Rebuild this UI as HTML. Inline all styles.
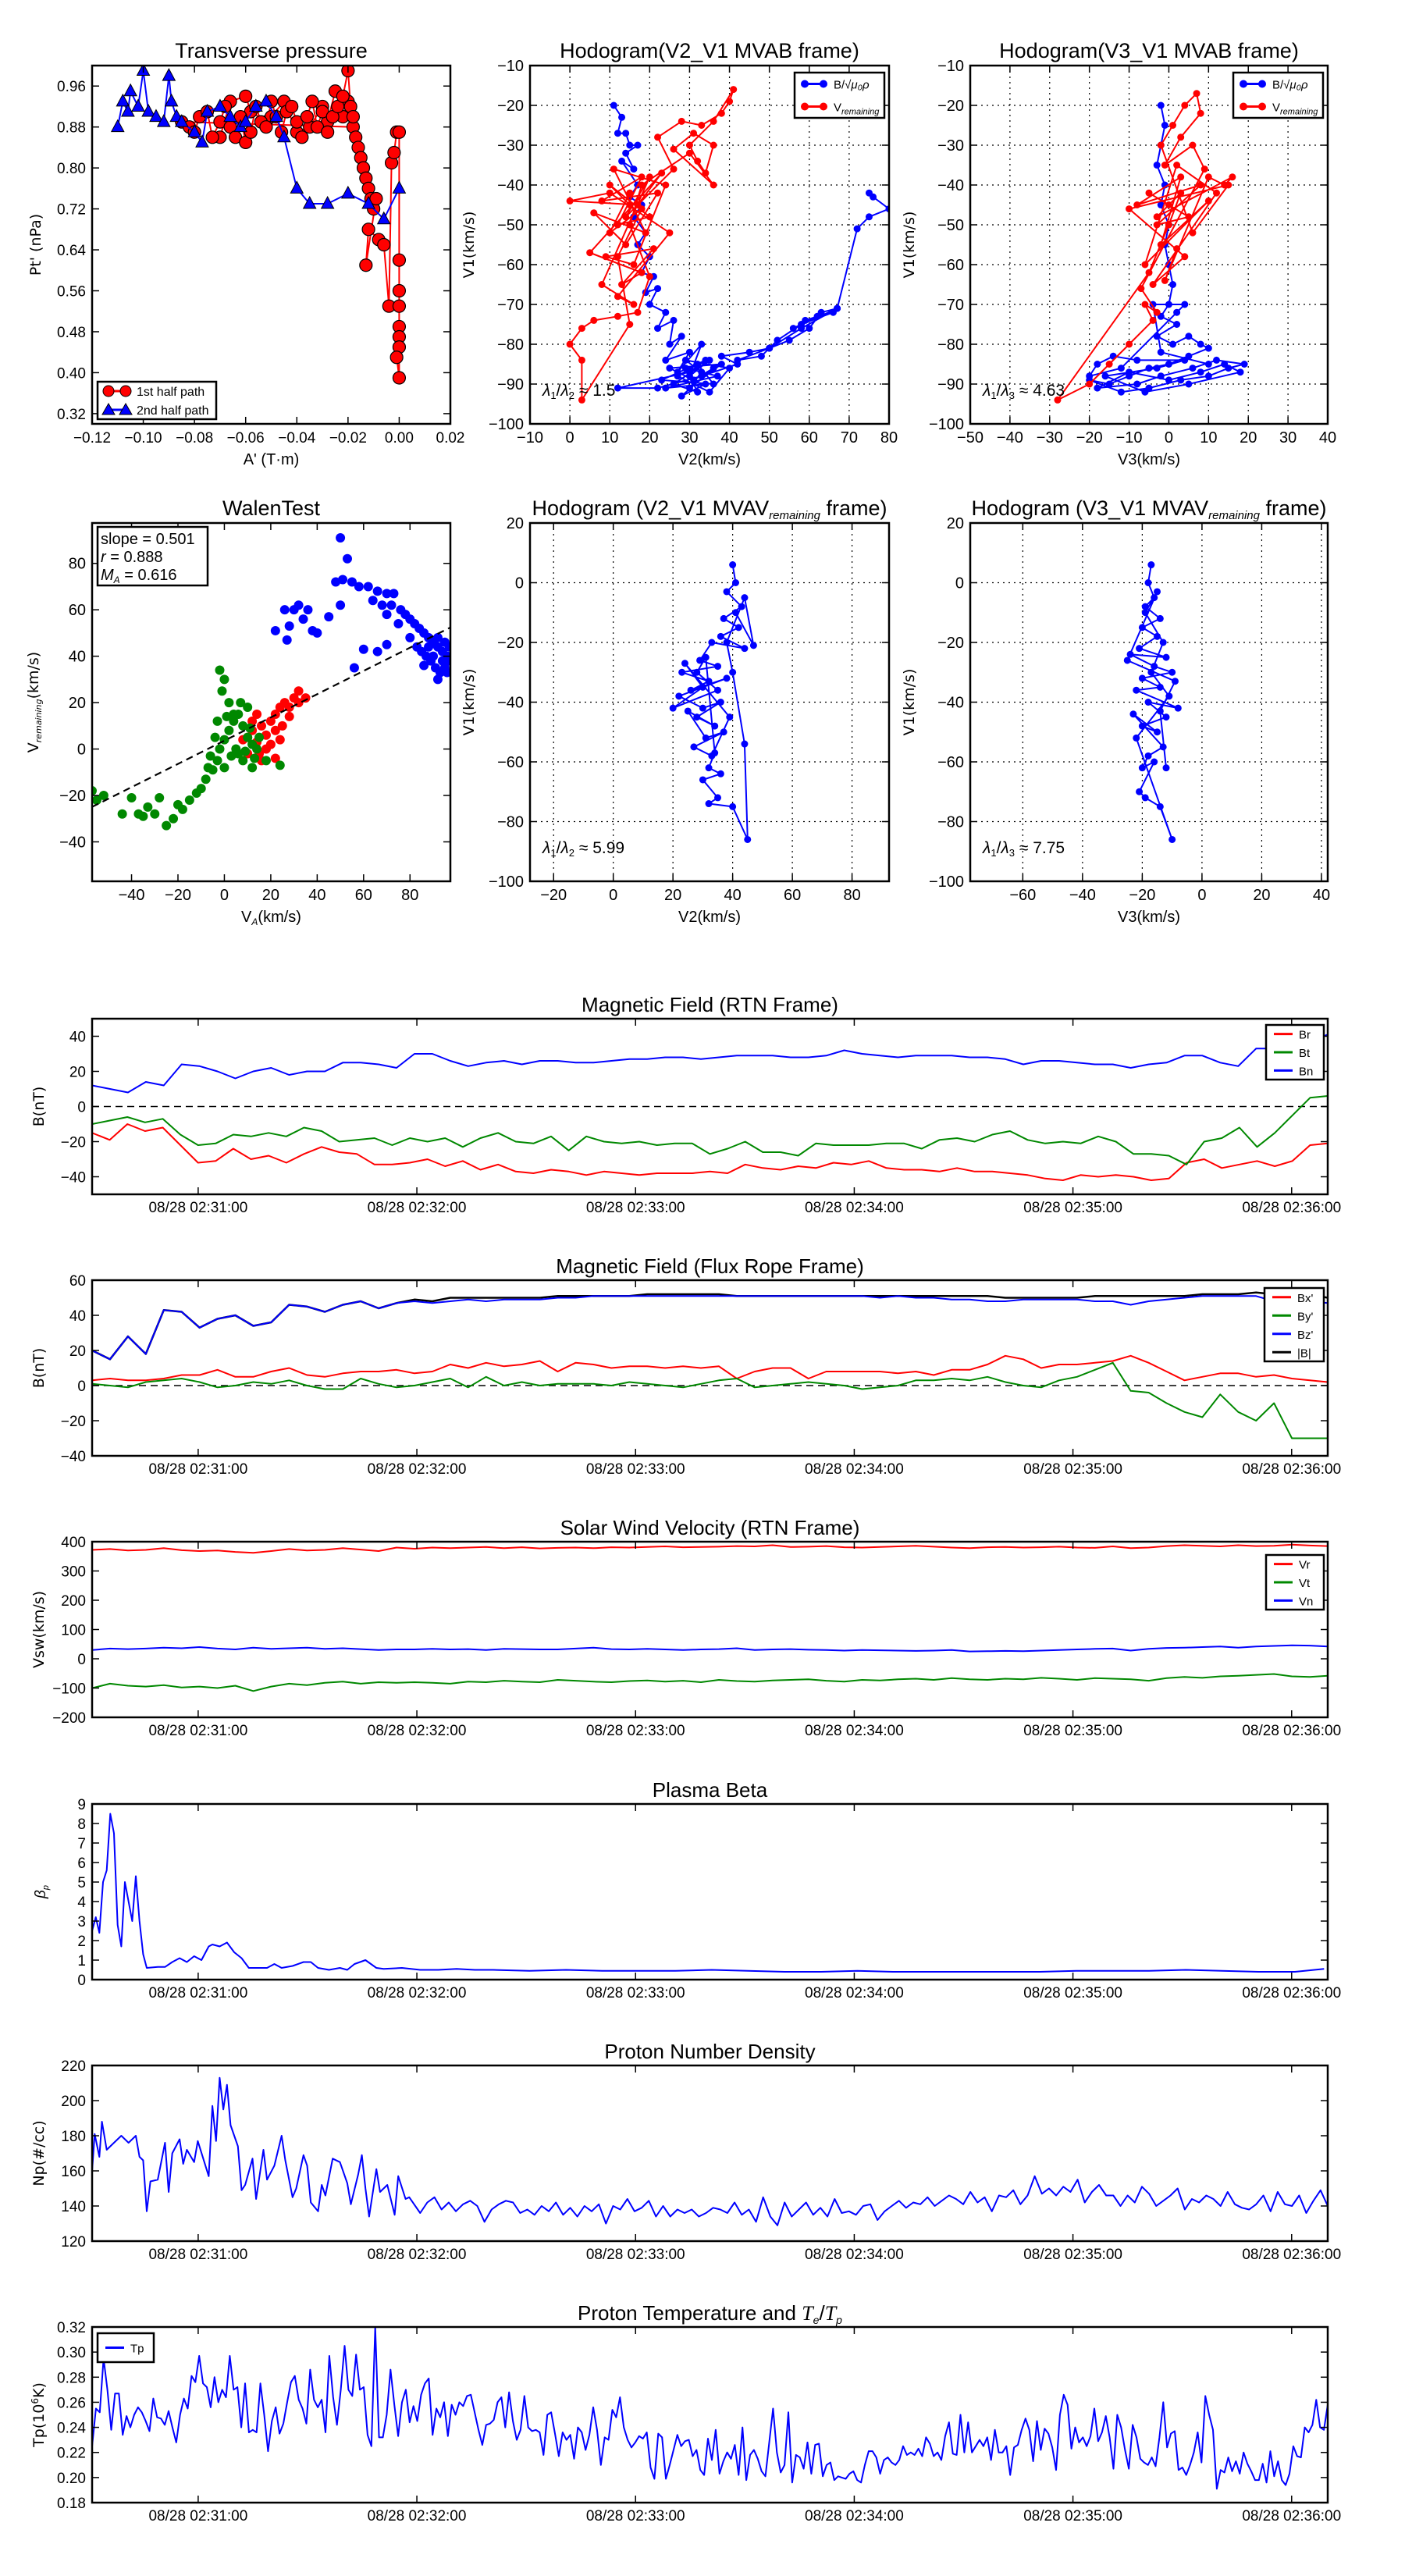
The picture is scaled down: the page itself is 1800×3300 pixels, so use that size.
<!DOCTYPE html>
<html><head><meta charset="utf-8"><title>Flux rope analysis</title>
<style>
html,body{margin:0;padding:0;background:#fff;}
svg{display:block;}
text{font-family:"Liberation Sans Narrow","Liberation Sans",sans-serif;fill:#000;}
.yl{font-family:"DejaVu Sans","Liberation Sans",sans-serif;}
</style></head>
<body>
<svg id="fig" xmlns="http://www.w3.org/2000/svg" width="1800" height="3300" viewBox="0 0 1800 3300"></svg>
<script>
// ---------- data ----------
const tpRedA=[-0.07,-0.066,-0.06,-0.058,-0.052,-0.05,-0.045,-0.04,-0.035,-0.03,-0.028,-0.025,-0.022,-0.02,-0.018,-0.085,-0.082,-0.08,-0.078,-0.075,-0.073,-0.07,-0.068,-0.066,-0.064,-0.062,-0.06,-0.058,-0.056,-0.054,-0.052,-0.05,-0.048,-0.046,-0.044,-0.042,-0.04,-0.038,-0.036,-0.034,-0.032,-0.03,-0.028,-0.026,-0.024,-0.022,-0.02,-0.019,-0.018,-0.017,-0.016,-0.015,-0.014,-0.013,-0.012,-0.011,-0.01,-0.009,-0.013,-0.012,-0.008,-0.006,-0.004,-0.003,-0.002,-0.001,0,0,0,0,0,0,0,0,-0.001];
const tpRedP=[0.86,0.93,0.94,0.91,0.89,0.9,0.93,0.87,0.88,0.92,0.89,0.95,0.9,0.93,0.88,0.89,0.88,0.87,0.9,0.91,0.86,0.89,0.92,0.88,0.86,0.9,0.85,0.87,0.92,0.89,0.88,0.93,0.9,0.87,0.91,0.92,0.89,0.86,0.9,0.93,0.88,0.91,0.87,0.9,0.92,0.94,0.99,0.92,0.9,0.86,0.84,0.82,0.8,0.78,0.76,0.74,0.72,0.74,0.61,0.68,0.66,0.65,0.53,0.81,0.83,0.87,0.87,0.62,0.56,0.53,0.49,0.47,0.45,0.39,0.43];
const tpBlueA=[-0.11,-0.108,-0.106,-0.105,-0.102,-0.1,-0.098,-0.095,-0.092,-0.09,-0.089,-0.087,-0.085,-0.08,-0.077,-0.075,-0.07,-0.066,-0.062,-0.06,-0.056,-0.052,-0.048,-0.045,-0.04,-0.035,-0.028,-0.02,-0.012,-0.006,0];
const tpBlueP=[0.88,0.93,0.91,0.95,0.92,0.99,0.91,0.9,0.89,0.98,0.93,0.9,0.89,0.87,0.85,0.91,0.92,0.9,0.88,0.89,0.92,0.93,0.9,0.86,0.76,0.73,0.73,0.75,0.73,0.7,0.76];

const h1Blue=[[11,-20],[13,-23],[12,-27],[14,-27],[15,-30],[17,-30],[14,-32],[16,-36],[13,-34],[17,-40],[15,-43],[18,-45],[16,-48],[19,-52],[17,-55],[20,-58],[18,-62],[21,-63],[19,-67],[22,-66],[20,-70],[24,-72],[22,-76],[26,-74],[25,-80],[28,-78],[24,-84],[30,-82],[27,-87],[33,-80],[30,-88],[35,-84],[26,-90],[32,-92],[29,-86],[37,-88],[24,-91],[34,-90],[28,-93],[36,-86],[31,-89],[25,-86],[38,-85],[30,-91],[33,-87],[29,-84],[40,-86],[35,-92],[27,-88],[32,-85],[36,-90],[23,-89],[34,-84],[30,-87],[12,-91],[22,-91],[33,-88],[42,-85],[38,-83],[45,-82],[50,-81],[55,-79],[60,-76],[63,-72],[67,-71],[56,-76],[62,-73],[59,-74],[66,-72],[58,-75],[52,-79],[48,-83],[42,-84],[50,-81],[58,-76],[67,-71],[72,-51],[75,-48],[80,-46],[76,-43],[75,-42]];
const h1Red=[[15,-45],[10,-40],[20,-48],[12,-50],[18,-38],[8,-44],[22,-42],[14,-55],[6,-47],[19,-52],[11,-36],[24,-40],[16,-60],[9,-58],[21,-56],[13,-65],[18,-62],[5,-57],[23,-37],[17,-45],[0,-44],[10,-42],[25,-52],[12,-68],[16,-70],[8,-65],[20,-38],[14,-48],[26,-36],[22,-28],[28,-24],[33,-25],[38,-22],[40,-19],[41,-16],[36,-24],[30,-30],[32,-34],[34,-37],[36,-30],[31,-27],[26,-31],[36,-40],[30,-32],[18,-40],[15,-50],[20,-63],[17,-72],[12,-73],[6,-74],[3,-76],[0,-80],[3,-84],[3,-94],[15,-75],[12,-58],[18,-46],[10,-52],[15,-42]];
const h2Blue=[[-2,-20],[-1,-25],[-2,-30],[-3,-35],[-1,-40],[-2,-45],[0,-50],[-1,-55],[0,-60],[1,-65],[0,-70],[-2,-73],[2,-75],[-3,-78],[1,-80],[5,-78],[8,-80],[10,-81],[5,-83],[0,-85],[-5,-86],[-10,-88],[-15,-90],[-20,-89],[-12,-92],[-5,-91],[3,-89],[10,-88],[15,-86],[19,-85],[12,-84],[6,-86],[-2,-88],[-8,-90],[-18,-91],[-10,-87],[0,-89],[8,-87],[14,-85],[18,-87],[5,-90],[-6,-92],[-16,-88],[-3,-86],[4,-84],[-8,-84],[-14,-83],[-18,-85],[-20,-88],[-12,-86],[2,-72],[4,-70],[-4,-70],[-2,-82],[10,-85]];
const h2Red=[[0,-45],[-5,-42],[5,-48],[-3,-50],[8,-40],[-8,-45],[3,-38],[-2,-55],[10,-44],[-6,-60],[2,-35],[12,-42],[-4,-65],[4,-58],[-10,-46],[15,-40],[6,-52],[-2,-30],[1,-25],[4,-20],[7,-17],[8,-22],[3,-28],[-1,-35],[6,-30],[9,-36],[-7,-66],[-3,-72],[-6,-70],[-4,-74],[-10,-80],[-15,-85],[-20,-90],[-28,-94],[-5,-62],[0,-50],[3,-42],[-3,-48],[16,-38],[14,-40],[10,-38],[-1,-64],[2,-56]];
const walenBlue=[[50,91],[53,82],[51,73],[48,72],[55,72],[58,70],[62,70],[66,68],[70,67],[73,67],[64,64],[68,62],[72,62],[76,60],[78,58],[80,56],[82,54],[84,52],[86,50],[88,48],[90,46],[92,44],[94,42],[96,40],[97,38],[95,35],[93,33],[91,35],[89,38],[87,40],[85,42],[92,48],[95,46],[97,44],[88,44],[90,40],[94,38],[96,33],[92,30],[86,36],[83,44],[80,48],[75,54],[70,58],[28,53],[30,60],[32,62],[34,56],[36,60],[38,51],[40,50],[26,60],[22,51],[45,57],[27,47],[66,42],[60,43],[56,35],[70,45],[50,62]];
const walenRed=[[10,5],[12,8],[14,3],[16,10],[18,6],[20,12],[22,15],[24,18],[26,20],[28,14],[30,22],[32,20],[35,22],[15,-2],[18,0],[22,8],[25,10],[12,12],[8,4],[20,2],[28,18],[32,25],[10,-2],[14,15],[24,4],[16,-5],[22,-4]];
const walenGreen=[[-57,-18],[-55,-22],[-52,-20],[-40,-21],[-37,-28],[-33,-25],[-30,-28],[-28,-21],[-25,-33],[-22,-30],[-20,-24],[-18,-26],[-15,-22],[-12,-19],[-10,-17],[-8,-13],[-5,-9],[-3,-5],[-2,0],[0,4],[2,8],[4,12],[6,15],[8,10],[10,5],[-2,34],[0,30],[-1,25],[2,20],[4,15],[6,-2],[8,-5],[12,-8],[14,0],[-4,5],[5,0],[0,-8],[3,-3],[7,20],[10,18],[12,2],[15,5],[18,-5],[24,-7],[-3,12],[-6,-3],[-7,-8],[1,14],[9,-1],[11,9],[13,-4],[-35,-29],[-44,-28]];
const walenSlope=0.501, walenIntercept=3.6;
const h3Blue=[[40,6],[41,0],[38,-3],[43,-8],[37,-12],[42,-15],[36,-18],[44,-22],[33,-20],[29,-26],[35,-28],[23,-30],[32,-33],[26,-36],[38,-32],[22,-38],[30,-42],[36,-40],[28,-45],[34,-48],[25,-43],[31,-52],[37,-50],[27,-55],[33,-58],[39,-45],[24,-27],[30,-35],[20,-42],[35,-36],[28,-30],[31,-25],[34,-57],[32,-62],[36,-64],[30,-66],[35,-72],[32,-74],[40,-75],[45,-86],[44,-54],[40,-30],[38,-20],[44,-5],[47,-21],[41,-10]];
const h4Blue=[[-17,6],[-18,0],[-16,-5],[-19,-8],[-14,-12],[-20,-15],[-15,-18],[-21,-22],[-12,-25],[-24,-24],[-16,-28],[-10,-30],[-20,-32],[-14,-35],[-22,-36],[-8,-42],[-18,-40],[-12,-45],[-20,-48],[-15,-50],[-23,-44],[-13,-55],[-18,-58],[-20,-62],[-16,-60],[-21,-70],[-19,-72],[-14,-75],[-10,-86],[-22,-52],[-11,-38],[-17,-30],[-13,-20],[-19,-10],[-15,-3],[-25,-26],[-9,-33],[-14,-43],[-12,-62]];

const timeTicks=[29.1,89.1,149.1,209.1,269.1,329.1];
const timeLabels=["08/28 02:31:00","08/28 02:32:00","08/28 02:33:00","08/28 02:34:00","08/28 02:35:00","08/28 02:36:00"];
const Br=[-15,-19,-10,-14,-12,-22,-32,-31,-24,-30,-28,-32,-27,-23,-26,-27,-33,-33,-32,-30,-34,-31,-36,-33,-37,-38,-36,-37,-39,-37,-38,-39,-38,-38,-38,-37,-38,-33,-35,-36,-34,-35,-32,-33,-31,-35,-36,-36,-37,-35,-37,-37,-38,-39,-41,-42,-39,-40,-39,-40,-42,-41,-32,-30,-35,-33,-31,-34,-31,-22,-21];
const Bt=[-10,-8,-6,-9,-7,-16,-22,-21,-16,-17,-15,-17,-12,-14,-20,-19,-18,-22,-18,-20,-18,-23,-18,-15,-20,-21,-17,-25,-17,-20,-21,-20,-22,-21,-21,-27,-24,-20,-26,-26,-28,-21,-22,-22,-22,-21,-21,-24,-19,-18,-20,-16,-14,-19,-21,-20,-21,-17,-20,-27,-27,-28,-33,-20,-18,-12,-23,-15,-5,5,6];
const Bn=[12,10,8,14,12,24,23,20,16,20,22,18,20,20,25,25,24,22,30,30,26,23,25,26,24,26,26,25,25,26,27,27,28,28,27,28,29,29,29,28,28,29,32,30,29,28,29,29,29,28,28,27,24,26,26,25,24,24,22,24,25,29,29,25,23,33,33,40,37,41];
const Bx=[3,4,3,3,4,6,6,9,5,5,8,10,6,5,7,8,8,9,7,8,12,10,13,11,12,14,8,13,12,10,11,11,10,11,10,11,4,8,10,10,4,8,8,8,8,7,8,6,9,9,12,17,15,10,12,12,13,14,17,13,8,3,5,7,7,5,6,4,3,2];
const By=[1,0,-1,2,3,4,2,-1,0,2,1,3,0,-2,-2,4,1,-1,0,2,4,-1,5,0,2,0,1,1,1,0,2,1,0,-1,1,3,4,-1,0,1,2,1,0,-2,-1,0,3,3,4,3,5,2,0,-1,3,5,9,13,-3,-4,-10,-15,-18,-5,-15,-20,-10,-30,-30,-30];
const Bz=[20,15,28,18,43,42,33,38,40,34,36,46,45,42,46,48,44,47,48,47,48,49,48,49,49,49,50,50,51,51,51,51,51,51,51,51,51,51,51,51,51,51,51,51,50,51,50,50,49,49,48,48,49,49,49,49,48,48,46,48,49,50,51,51,51,51,48,52,48,47];
const Bmag=[20,15,28,18,43,42,33,38,40,34,36,46,45,42,46,48,44,47,49,48,50,50,50,50,50,50,51,51,51,51,51,52,52,52,52,52,51,51,51,51,51,51,51,51,51,51,51,51,51,51,51,50,50,50,50,50,51,51,51,51,51,51,52,52,52,53,52,53,52,50];
const Vr=[372,375,370,372,378,371,368,370,365,362,368,375,370,372,378,373,368,380,376,380,378,380,382,378,381,377,379,380,378,381,380,382,384,381,382,383,385,384,388,382,383,385,381,380,382,384,386,383,380,378,381,382,380,381,383,380,379,384,378,380,385,388,386,384,388,385,386,390,387,385];
const Vt=[-100,-85,-92,-95,-90,-98,-95,-100,-92,-110,-95,-85,-90,-82,-78,-85,-80,-82,-80,-82,-85,-78,-80,-75,-78,-80,-72,-75,-78,-80,-76,-74,-78,-75,-80,-72,-76,-78,-74,-72,-70,-75,-78,-72,-74,-70,-68,-72,-66,-70,-72,-68,-70,-65,-68,-72,-66,-68,-70,-75,-66,-62,-65,-60,-58,-55,-52,-60,-62,-58];
const Vn=[30,35,33,35,38,36,40,35,32,38,34,36,38,34,36,33,30,32,32,34,32,33,30,34,33,32,32,35,38,33,32,34,32,30,32,33,36,30,32,33,31,30,28,30,29,28,27,28,30,25,26,27,26,28,30,32,34,35,28,34,37,38,40,42,38,42,44,46,45,42];
const betaT=[0,1,2,3,4,5,6,7,8,9,10,11,12,13,14,15,18,20,22,24,26,28,30,32,33,35,37,39,41,43,45,48,50,52,55,58,60,62,65,68,70,72,75,78,80,85,90,95,100,105,110,120,130,140,150,160,170,180,190,200,210,220,230,240,250,260,270,280,290,300,310,320,330,338];
const betaV=[2.5,3.2,2.4,5,5.6,8.5,7.5,2.8,1.7,5,4,3,5.3,3,1.3,0.6,0.65,0.65,0.9,1.1,0.9,1.2,1.0,1.7,1.8,1.7,1.9,1.4,1.1,0.6,0.6,0.6,0.8,0.6,0.7,0.9,0.9,0.6,0.5,0.6,0.5,0.8,1.0,0.6,0.55,0.6,0.5,0.5,0.55,0.5,0.5,0.45,0.5,0.45,0.45,0.45,0.5,0.45,0.4,0.4,0.45,0.4,0.4,0.4,0.4,0.4,0.45,0.45,0.45,0.5,0.45,0.4,0.4,0.55];
const npHeadT=[0,0.7,2,2.7,4,6,8,10,12,13,14,15,16,18,20,21,22,24,25,26,28,29,32,33,34,35,36,37,38,40,41,42,44,45,47,48,50,52,53,55,56,58,59,60,62,63,64,66,68,70,71,73,74,75,76,78,79,81,83,84,86,87];
const npHeadV=[160,181,168,188,172,176,180,176,180,168,166,137,154,155,176,148,170,178,164,172,165,177,157,197,177,213,195,209,186,174,149,152,167,144,172,155,163,180,166,145,150,169,163,142,137,152,146,167,165,153,141,158,169,150,134,161,148,152,135,157,144,145];
const npTail=[136,142,145,138,142,137,141,143,140,131,138,141,143,142,136,138,135,140,137,142,135,139,134,140,137,141,130,140,138,144,137,139,143,134,140,134,138,136,138,134,136,139,138,136,142,135,138,131,145,134,129,142,134,138,142,135,139,134,144,136,137,135,140,141,132,137,140,143,139,142,141,145,140,143,146,144,141,148,142,145,137,146,145,149,141,146,157,147,150,146,151,148,155,142,148,152,146,146,140,146,142,151,147,140,143,146,150,138,144,142,146,144,140,148,141,139,138,141,146,137,148,141,140,146,136,143,149,140];
const Tp=[0.225,0.255,0.252,0.295,0.27,0.238,0.267,0.267,0.234,0.249,0.24,0.25,0.256,0.252,0.245,0.237,0.263,0.248,0.247,0.242,0.253,0.24,0.228,0.25,0.263,0.255,0.281,0.276,0.297,0.275,0.272,0.256,0.28,0.26,0.27,0.264,0.297,0.27,0.272,0.24,0.275,0.236,0.238,0.236,0.275,0.25,0.221,0.245,0.256,0.235,0.243,0.26,0.276,0.281,0.262,0.255,0.243,0.286,0.262,0.256,0.262,0.236,0.297,0.264,0.242,0.27,0.305,0.27,0.265,0.298,0.27,0.272,0.234,0.225,0.32,0.232,0.232,0.25,0.286,0.258,0.233,0.26,0.27,0.244,0.257,0.245,0.266,0.275,0.279,0.234,0.255,0.248,0.26,0.233,0.258,0.25,0.26,0.257,0.265,0.266,0.252,0.238,0.226,0.242,0.243,0.246,0.26,0.264,0.24,0.268,0.245,0.23,0.238,0.265,0.24,0.237,0.238,0.236,0.218,0.25,0.252,0.235,0.217,0.236,0.23,0.234,0.215,0.24,0.236,0.222,0.234,0.256,0.238,0.21,0.232,0.23,0.254,0.248,0.264,0.24,0.23,0.224,0.228,0.233,0.231,0.236,0.208,0.199,0.235,0.232,0.199,0.21,0.222,0.234,0.225,0.229,0.23,0.217,0.222,0.206,0.202,0.231,0.214,0.238,0.203,0.213,0.22,0.215,0.226,0.202,0.24,0.198,0.218,0.222,0.215,0.205,0.201,0.228,0.255,0.22,0.204,0.21,0.252,0.196,0.218,0.216,0.207,0.228,0.203,0.226,0.227,0.201,0.21,0.212,0.198,0.201,0.2,0.199,0.203,0.205,0.198,0.196,0.21,0.221,0.221,0.216,0.203,0.214,0.216,0.212,0.21,0.214,0.225,0.218,0.22,0.218,0.223,0.217,0.232,0.227,0.217,0.22,0.214,0.233,0.244,0.219,0.218,0.25,0.22,0.244,0.22,0.225,0.23,0.225,0.232,0.214,0.238,0.22,0.22,0.225,0.202,0.224,0.226,0.238,0.247,0.238,0.213,0.245,0.222,0.239,0.235,0.224,0.206,0.25,0.266,0.258,0.223,0.24,0.228,0.232,0.225,0.233,0.255,0.229,0.236,0.249,0.232,0.207,0.25,0.24,0.222,0.207,0.242,0.232,0.215,0.212,0.21,0.216,0.209,0.232,0.26,0.224,0.235,0.237,0.206,0.208,0.202,0.21,0.22,0.236,0.212,0.265,0.25,0.238,0.191,0.206,0.204,0.216,0.205,0.213,0.203,0.22,0.211,0.205,0.198,0.198,0.211,0.196,0.221,0.201,0.213,0.198,0.194,0.203,0.225,0.217,0.216,0.24,0.236,0.242,0.262,0.24,0.238,0.258];

// ---------- helpers ----------
const NS="http://www.w3.org/2000/svg";
const svg=document.getElementById('fig');
let clipId=0;
function mk(tag,attrs,parent){const e=document.createElementNS(NS,tag);for(const k in attrs)e.setAttribute(k,attrs[k]);(parent||svg).appendChild(e);return e;}
function fmtMinus(s){return String(s).replace('-','\u2212');}
function txt(x,y,s,size,anchor,parent,cls){const t=mk('text',{x:x,y:y,'font-size':size,'text-anchor':anchor||'middle'},parent);if(cls)t.setAttribute('class',cls);t.textContent=s;return t;}

function axes(o){
  const g=mk('g',{});
  
  
  const sx=v=>o.x+(v-o.xmin)/(o.xmax-o.xmin)*o.w;
  const sy=v=>o.y+o.h-(v-o.ymin)/(o.ymax-o.ymin)*o.h;
  const cid='c'+(clipId++);
  const cp=mk('clipPath',{id:cid},g);
  mk('rect',{x:o.x,y:o.y,width:o.w,height:o.h},cp);
  if(o.grid){
    o.xticks.forEach(v=>{const gl=mk('line',{x1:sx(v),x2:sx(v),y1:o.y,y2:o.y+o.h,stroke:'#000','stroke-width':1.2,'stroke-dasharray':'2,5'},g);});
    o.yticks.forEach(v=>{const gl=mk('line',{x1:o.x,x2:o.x+o.w,y1:sy(v),y2:sy(v),stroke:'#000','stroke-width':1.2,'stroke-dasharray':'2,5'},g);});
  }
  const plot=mk('g',{'clip-path':'url(#'+cid+')'},g);
  
  
  const fs=o.fs||20;
  o.xticks.forEach((v,i)=>{
    const X=sx(v);
    mk('line',{x1:X,x2:X,y1:o.y+o.h,y2:o.y+o.h-9,stroke:'#000','stroke-width':1.5},g);
    mk('line',{x1:X,x2:X,y1:o.y,y2:o.y+9,stroke:'#000','stroke-width':1.5},g);
    const lab=o.xlabels?o.xlabels[i]:fmtMinus(o.xfmt?o.xfmt(v):v);
    const t=txt(X,o.y+o.h+(o.xoff||24),lab,fs,'middle',g);
    
    
  });
  o.yticks.forEach(v=>{
    const Y=sy(v);
    mk('line',{x1:o.x,x2:o.x+9,y1:Y,y2:Y,stroke:'#000','stroke-width':1.5},g);
    mk('line',{x1:o.x+o.w,x2:o.x+o.w-9,y1:Y,y2:Y,stroke:'#000','stroke-width':1.5},g);
    const t=txt(o.x-8,Y+7,fmtMinus(o.yfmt?o.yfmt(v):v),fs,'end',g);
    
    
  });
  const fr=mk('rect',{x:o.x,y:o.y,width:o.w,height:o.h,fill:'none',stroke:'#000','stroke-width':2.5},g);
  
  
  if(o.title){const t=txt(o.x+o.w/2,o.y-(o.tOff||10),o.title,o.tfs||27,'middle',g);}
  if(o.xlabel){const t=txt(o.x+o.w/2,o.y+o.h+(o.xlOff||52),o.xlabel,20,'middle',g);}
  if(o.ylabel){const t=txt(0,0,o.ylabel,19,'middle',g,'yl');t.setAttribute('transform','translate('+o.ylx+','+(o.y+o.h/2)+') rotate(-90)');}
  return {sx,sy,plot,g};
}
function polyline(A,pts,color,w,name,dash){
  const d=pts.map((p,i)=>(i?'L':'M')+A.sx(p[0]).toFixed(1)+','+A.sy(p[1]).toFixed(1)).join('');
  const e=mk('path',{d:d,fill:'none',stroke:color,'stroke-width':w||2,'stroke-linejoin':'round'},A.plot);
  if(dash)e.setAttribute('stroke-dasharray',dash);
  
  
  return e;
}
function dots(A,pts,color,r,name,stroke){
  const g=mk('g',{},A.plot);
  
  
  pts.forEach(p=>{mk('circle',{cx:A.sx(p[0]),cy:A.sy(p[1]),r:r,fill:color,stroke:stroke||'none','stroke-width':1.2},g);});
}
function evenSeries(vals,t0,t1){const n=vals.length;return vals.map((v,i)=>[t0+(t1-t0)*i/(n-1),v]);}
function legendBox(x,y,w,h,entries,parent,name,fs,marker){
  const g=mk('g',{},parent);
  
  
  mk('rect',{x:x,y:y,width:w,height:h,fill:'#fff',stroke:'#000','stroke-width':2.5},g);
  const step=h/entries.length;
  entries.forEach((en,i)=>{
    const cy=y+step*(i+0.5);
    const lg=mk('g',{},g);
    
    
    mk('line',{x1:x+10,x2:x+(marker?40:34),y1:cy,y2:cy,stroke:en.c,'stroke-width':3},lg);
    if(marker==='o'){mk('circle',{cx:x+13,cy:cy,r:5,fill:en.c},lg);mk('circle',{cx:x+37,cy:cy,r:5,fill:en.c},lg);}
    if(en.m==='bigo'){mk('circle',{cx:x+14,cy:cy,r:7,fill:en.c,stroke:'#000','stroke-width':1},lg);mk('circle',{cx:x+36,cy:cy,r:7,fill:en.c,stroke:'#000','stroke-width':1},lg);}
    if(en.m==='tri'){[14,36].forEach(dx=>mk('path',{d:'M'+(x+dx)+','+(cy-8)+'L'+(x+dx+8)+','+(cy+6)+'L'+(x+dx-8)+','+(cy+6)+'Z',fill:en.c,stroke:'#000','stroke-width':1},lg));}
    const t=mk('text',{x:x+(marker?50:42),y:cy+6,'font-size':fs||17,'text-anchor':'start'},lg);
    t.innerHTML=en.html;
  });
  return g;
}

// ---------- top row ----------
const cols=[[118,459],[679,460],[1243,458]];
const row1=[84,459], row2=[670,459];

{
const A=axes({name:'transverse-pressure-chart',x:cols[0][0],y:row1[0],w:cols[0][1],h:row1[1],xmin:-0.12,xmax:0.02,ymin:0.30,ymax:1.0,
 xticks:[-0.12,-0.1,-0.08,-0.06,-0.04,-0.02,0,0.02],yticks:[0.32,0.40,0.48,0.56,0.64,0.72,0.80,0.88,0.96],
 xfmt:v=>v.toFixed(2),yfmt:v=>v.toFixed(2),title:'Transverse pressure',xlabel:"A' (T\u00b7m)",ylabel:"Pt' (nPa)",ylx:52,fs:19});
const red=tpRedA.map((a,i)=>[a,tpRedP[i]]);
const blue=tpBlueA.map((a,i)=>[a,tpBlueP[i]]);
polyline(A,red,'#f00',2,'first-half-line');
dots(A,red,'#f00',8,'first-half-markers','#000');
polyline(A,blue,'#00f',2,'second-half-line');
const tg=mk('g',{},A.plot);


blue.forEach(p=>{const X=A.sx(p[0]),Y=A.sy(p[1]);mk('path',{d:'M'+X+','+(Y-9)+'L'+(X+8)+','+(Y+6)+'L'+(X-8)+','+(Y+6)+'Z',fill:'#00f',stroke:'#000','stroke-width':1},tg);});
legendBox(125,489,152,48,[{c:'#f00',m:'bigo',html:'1st half path'},{c:'#00f',m:'tri',html:'2nd half path'}],A.g,'pressure-legend',16,'x');
}
function hodo(name,col,row,xr,yr,xt,yt,title,xl,series,lam,legend){
  const A=axes({name:name,x:col[0],y:row[0],w:col[1],h:row[1],xmin:xr[0],xmax:xr[1],ymin:yr[0],ymax:yr[1],xticks:xt,yticks:yt,grid:true,title:title,xlabel:xl,ylabel:'V1(km/s)',ylx:col[0]-72,fs:20});
  series.forEach(s=>{polyline(A,s.d,s.c,2,s.n+'-line');dots(A,s.d,s.c,4.5,s.n+'-markers');});
  const lt=mk('text',{x:col[0]+16,y:row[0]+row[1]-36,'font-size':21,'text-anchor':'start'},A.g);
  
  
  lt.innerHTML=lam;
  if(legend)legendBox(col[0]+col[1]-121,row[0]+9,115,58,[{c:'#00f',html:'B/\u221a<tspan font-style="italic">\u03bc\u2080\u03c1</tspan>'},{c:'#f00',html:'V<tspan font-size="11" font-style="italic" dy="4">remaining</tspan>'}],A.g,'hodogram-legend',15,'o');
  return A;
}
const ticks10=(a,b,s)=>{const r=[];for(let v=a;v<=b+1e-9;v+=s)r.push(Math.round(v*100)/100);return r;};
hodo('hodogram-v2-v1-mvab',cols[1],row1,[-10,80],[-100,-10],ticks10(-10,80,10),ticks10(-100,-10,10),'Hodogram(V2_V1 MVAB frame)','V2(km/s)',[{d:h1Blue,c:'#00f',n:'b-field'},{d:h1Red,c:'#f00',n:'v-remaining'}],'<tspan font-style="italic">\u03bb</tspan><tspan font-size="13" dy="4">1</tspan><tspan dy="-4">/</tspan><tspan font-style="italic">\u03bb</tspan><tspan font-size="13" dy="4">2</tspan><tspan dy="-4"> \u2248 1.5</tspan>',true);
hodo('hodogram-v3-v1-mvab',cols[2],row1,[-50,40],[-100,-10],ticks10(-50,40,10),ticks10(-100,-10,10),'Hodogram(V3_V1 MVAB frame)','V3(km/s)',[{d:h2Blue,c:'#00f',n:'b-field'},{d:h2Red,c:'#f00',n:'v-remaining'}],'<tspan font-style="italic">\u03bb</tspan><tspan font-size="13" dy="4">1</tspan><tspan dy="-4">/</tspan><tspan font-style="italic">\u03bb</tspan><tspan font-size="13" dy="4">3</tspan><tspan dy="-4"> \u2248 4.63</tspan>',true);

{
const A=axes({name:'walen-test-chart',x:cols[0][0],y:row2[0],w:cols[0][1],h:row2[1],xmin:-57,xmax:97.4,ymin:-57,ymax:97.4,xticks:[-40,-20,0,20,40,60,80],yticks:[-40,-20,0,20,40,60,80],title:'WalenTest',xlabel:'',ylabel:'',ylx:49,fs:20});
dots(A,walenBlue,'#00f',6,'walen-blue-points');
dots(A,walenRed,'#f00',6,'walen-red-points');
dots(A,walenGreen,'#080',6,'walen-green-points');
polyline(A,[[-57,walenSlope*-57+walenIntercept],[97.4,walenSlope*97.4+walenIntercept]],'#000',2.2,'walen-fit-line','9,6');
const xl=mk('text',{x:cols[0][0]+cols[0][1]/2,y:row2[0]+row2[1]+52,'font-size':20,'text-anchor':'middle'},A.g);


xl.innerHTML='V<tspan font-size="12" dy="4" font-style="italic">A</tspan><tspan dy="-4">(km/s)</tspan>';
const yl=mk('text',{x:0,y:0,'font-size':19,'text-anchor':'middle',transform:'translate(49,'+(row2[0]+row2[1]/2)+') rotate(-90)','class':'yl'},A.g);


yl.innerHTML='V<tspan font-size="11" dy="4" font-style="italic">remaining</tspan><tspan dy="-4">(km/s)</tspan>';
const bx=mk('g',{},A.g);


mk('rect',{x:125,y:675,width:141,height:75,fill:'#fff',stroke:'#000','stroke-width':2.5},bx);
const l1=mk('text',{x:129,y:697,'font-size':20,'text-anchor':'start'},bx);l1.textContent='slope = '+walenSlope.toFixed(3);
const l2=mk('text',{x:129,y:720,'font-size':20,'text-anchor':'start'},bx);l2.innerHTML='<tspan font-style="italic">r</tspan> = 0.888';
const l3=mk('text',{x:129,y:743,'font-size':20,'text-anchor':'start'},bx);l3.innerHTML='<tspan font-style="italic">M</tspan><tspan font-size="12" dy="4" font-style="italic">A</tspan><tspan dy="-4"> = 0.616</tspan>';
}
hodo('hodogram-v2-v1-mvav',cols[1],row2,[-27.9,92.4],[-100,20],[-20,0,20,40,60,80],ticks10(-100,20,20),'','V2(km/s)',[{d:h3Blue,c:'#00f',n:'b-field'}],'<tspan font-style="italic">\u03bb</tspan><tspan font-size="13" dy="4">1</tspan><tspan dy="-4">/</tspan><tspan font-style="italic">\u03bb</tspan><tspan font-size="13" dy="4">2</tspan><tspan dy="-4"> \u2248 5.99</tspan>',false);
hodo('hodogram-v3-v1-mvav',cols[2],row2,[-77.6,42.1],[-100,20],[-60,-40,-20,0,20,40],ticks10(-100,20,20),'','V3(km/s)',[{d:h4Blue,c:'#00f',n:'b-field'}],'<tspan font-style="italic">\u03bb</tspan><tspan font-size="13" dy="4">1</tspan><tspan dy="-4">/</tspan><tspan font-style="italic">\u03bb</tspan><tspan font-size="13" dy="4">3</tspan><tspan dy="-4"> \u2248 7.75</tspan>',false);
[[cols[1],'Hodogram (V2_V1 MVAV','mvav-title-1'],[cols[2],'Hodogram (V3_V1 MVAV','mvav-title-2']].forEach(a=>{
  const t=mk('text',{x:a[0][0]+a[0][1]/2,y:row2[0]-10,'font-size':27,'text-anchor':'middle'});
  
  
  t.innerHTML=a[1]+'<tspan font-size="15" font-style="italic" dy="5">remaining</tspan><tspan dy="-5"> frame)</tspan>';
});

// ---------- time series ----------
const TX=118,TW=1583,TH=225,TMAX=339;
const tops=[1305,1640,1975,2311,2646,2981];
function tpanel(i,name,title,ymin,ymax,yt,ylabel,yfmt){
  return axes({name:name,x:TX,y:tops[i],w:TW,h:TH,xmin:0,xmax:TMAX,ymin:ymin,ymax:ymax,xticks:timeTicks,xlabels:timeLabels,yticks:yt,yfmt:yfmt,title:title,tfs:26,tOff:9,ylabel:ylabel,ylx:56,fs:19,xoff:23});
}
{
const A=tpanel(0,'magnetic-field-rtn-chart','Magnetic Field (RTN Frame)',-50,50,[-40,-20,0,20,40],'B(nT)');
polyline(A,[[0,0],[TMAX,0]],'#000',1.5,'zero-line','9,6');
polyline(A,evenSeries(Br,0,TMAX),'#f00',2,'br-line');
polyline(A,evenSeries(Bt,0,TMAX),'#080',2,'bt-line');
polyline(A,evenSeries(Bn,0,TMAX),'#00f',2,'bn-line');
legendBox(1622,1313,74,70,[{c:'#f00',html:'Br'},{c:'#080',html:'Bt'},{c:'#00f',html:'Bn'}],A.g,'rtn-legend',15);
}
{
const A=tpanel(1,'magnetic-field-flux-rope-chart','Magnetic Field (Flux Rope Frame)',-40,60,[-40,-20,0,20,40,60],'B(nT)');
polyline(A,[[0,0],[TMAX,0]],'#000',1.5,'zero-line','9,6');
polyline(A,evenSeries(Bx,0,TMAX),'#f00',2,'bx-line');
polyline(A,evenSeries(By,0,TMAX),'#080',2,'by-line');
polyline(A,evenSeries(Bmag,0,TMAX),'#000',2.5,'bmag-line');
polyline(A,evenSeries(Bz,0,TMAX),'#00f',2,'bz-line');
legendBox(1620,1650,76,94,[{c:'#f00',html:"Bx'"},{c:'#080',html:"By'"},{c:'#00f',html:"Bz'"},{c:'#000',html:'|B|'}],A.g,'flux-rope-legend',15);
}
{
const A=tpanel(2,'solar-wind-velocity-chart','Solar Wind Velocity (RTN Frame)',-200,400,[-200,-100,0,100,200,300,400],'Vsw(km/s)');
polyline(A,evenSeries(Vr,0,TMAX),'#f00',2,'vr-line');
polyline(A,evenSeries(Vt,0,TMAX),'#080',2,'vt-line');
polyline(A,evenSeries(Vn,0,TMAX),'#00f',2,'vn-line');
legendBox(1622,1992,74,70,[{c:'#f00',html:'Vr'},{c:'#080',html:'Vt'},{c:'#00f',html:'Vn'}],A.g,'velocity-legend',15);
}
{
const A=tpanel(3,'plasma-beta-chart','Plasma Beta',0,9,[0,1,2,3,4,5,6,7,8,9],'');
polyline(A,betaT.map((t,i)=>[t,betaV[i]]),'#00f',2,'beta-line');
const yl=mk('text',{x:0,y:0,'font-size':19,'text-anchor':'middle',transform:'translate(58,'+(tops[3]+TH/2)+') rotate(-90)','font-style':'italic'},A.g);


yl.innerHTML='\u03b2<tspan font-size="11" dy="4">p</tspan>';
}
{
const A=tpanel(4,'proton-density-chart','Proton Number Density',120,220,[120,140,160,180,200,220],'Np(#/cc)');
const pts=npHeadT.map((t,i)=>[t,npHeadV[i]]).concat(evenSeries(npTail,90,TMAX));
polyline(A,pts,'#00f',2,'density-line');
}
{
const A=tpanel(5,'proton-temperature-chart','',0.18,0.32,[0.18,0.20,0.22,0.24,0.26,0.28,0.30,0.32],'',v=>v.toFixed(2));
polyline(A,evenSeries(Tp,0,TMAX),'#00f',2,'tp-line');
const t=mk('text',{x:TX+TW/2,y:tops[5]-9,'font-size':26,'text-anchor':'middle'},A.g);


t.innerHTML='Proton Temperature and <tspan font-style="italic" font-family="Liberation Serif">T</tspan><tspan font-size="14" dy="5" font-style="italic">e</tspan><tspan dy="-5">/</tspan><tspan font-style="italic" font-family="Liberation Serif">T</tspan><tspan font-size="14" dy="5" font-style="italic">p</tspan>';
const yl=mk('text',{x:0,y:0,'font-size':19,'text-anchor':'middle',transform:'translate(56,'+(tops[5]+TH/2)+') rotate(-90)','class':'yl'},A.g);


yl.innerHTML='Tp(10<tspan font-size="12" dy="-7">6</tspan><tspan dy="7">K)</tspan>';
legendBox(125,2989,72,37,[{c:'#00f',html:'Tp'}],A.g,'tp-legend',15);
}
</script>
</body></html>
